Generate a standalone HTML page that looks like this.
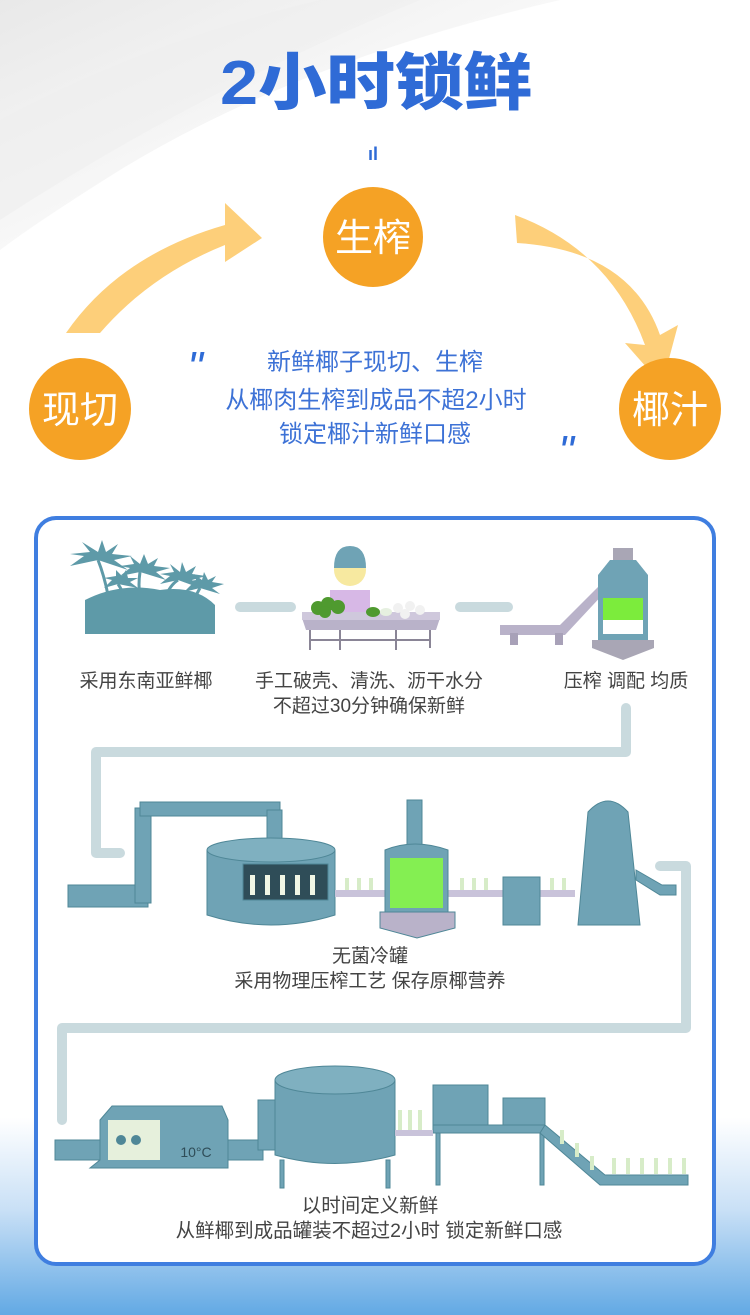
<!DOCTYPE html>
<html><head><meta charset="utf-8"><style>
html,body{margin:0;padding:0;width:750px;height:1315px;overflow:hidden;background:#fff}
svg{display:block}
text{font-family:"Liberation Sans","Noto Sans CJK SC",sans-serif}
</style></head><body>
<svg width="750" height="1315" viewBox="0 0 750 1315" xmlns="http://www.w3.org/2000/svg">
<defs>
<linearGradient id="bg" x1="0" y1="0" x2="0" y2="1">
<stop offset="0" stop-color="#fff"/><stop offset="0.85" stop-color="#fff"/><stop offset="0.92" stop-color="#c9e0f6"/><stop offset="1" stop-color="#62a9e4"/>
</linearGradient>
<linearGradient id="silk" x1="0" y1="0" x2="1" y2="1">
<stop offset="0" stop-color="#e6e6e6"/><stop offset="0.5" stop-color="#f7f7f7"/><stop offset="1" stop-color="#fff" stop-opacity="0"/>
</linearGradient>
</defs>
<rect width="750" height="1315" fill="url(#bg)"/>
<path d="M0 0 L560 0 Q300 60 120 170 Q40 220 0 250 Z" fill="url(#silk)" opacity="0.9"/>
<path d="M0 120 Q150 40 320 0 L420 0 Q200 90 0 220 Z" fill="#efefef" opacity="0.6"/>

<text x="220" y="104" textLength="312" lengthAdjust="spacingAndGlyphs" font-size="62" font-weight="900" fill="#2f6bd6">2小时锁鲜</text>
<text x="373" y="160" text-anchor="middle" font-size="18" font-weight="bold" fill="#2f6bd6">ıl</text>

<!-- arrows -->
<path d="M66 333 Q120 255 225 225 L225 203 L262 238 L225 262 L225 245 Q150 275 100 333 Z" fill="#fdcf7a"/>
<path d="M515 215 Q610 250 645 345 L625 343 L662 385 L678 325 L660 335 Q630 250 517 243 Z" fill="#fdcf7a"/>

<circle cx="373" cy="237" r="50" fill="#f5a225"/>
<text x="373" y="251" text-anchor="middle" font-size="38" fill="#fff">生榨</text>
<circle cx="80" cy="409" r="51" fill="#f5a225"/>
<text x="80" y="423" text-anchor="middle" font-size="38" fill="#fff">现切</text>
<circle cx="670" cy="409" r="51" fill="#f5a225"/>
<text x="670" y="423" text-anchor="middle" font-size="38" fill="#fff">椰汁</text>

<text x="195" y="382" text-anchor="middle" font-size="44" font-style="italic" fill="#2f6bd6">"</text>
<text x="566" y="466" text-anchor="middle" font-size="44" font-style="italic" fill="#2f6bd6">"</text>
<g font-size="24" fill="#3d72d6" text-anchor="middle">
<text x="375" y="370">新鲜椰子现切、生榨</text>
<text x="376" y="408">从椰肉生榨到成品不超2小时</text>
<text x="375" y="442">锁定椰汁新鲜口感</text>
</g>

<!-- card -->
<rect x="36" y="518" width="678" height="746" rx="20" fill="#fff" stroke="#3f7ee0" stroke-width="4"/>

<!-- connectors -->
<g stroke="#c9dade" stroke-width="10" fill="none" stroke-linecap="round" stroke-linejoin="round">
<line x1="240" y1="607" x2="291" y2="607"/>
<line x1="460" y1="607" x2="508" y2="607"/>
<path d="M626 708 V752 H96 V853 H120"/>
<path d="M660 866 H686 V1028 H62 V1120"/>
</g>

<!-- row1: palms -->
<g fill="#5e9aa8">
<path d="M85 634 L85 600 Q120 582 160 590 Q195 585 215 605 L215 634 Z"/>
<g stroke="#5e9aa8" stroke-width="3" fill="none">
<path d="M108 595 Q104 575 98 560"/><path d="M140 596 Q138 585 140 572"/><path d="M165 598 Q170 585 178 580"/><path d="M192 605 Q196 595 200 588"/><path d="M125 598 Q122 590 118 584"/>
</g>
<g>
<path d="M98 560 l-28 6 l14 -10 l-14 -2 l20 -2 l-8 -10 l16 10 l4 -12 l4 12 l12 -8 l-6 10 l20 2 l-18 4 l14 10 z"/>
<path d="M140 572 l-20 4 l10 -8 l-10 -2 l14 -2 l-4 -8 l10 8 l4 -10 l4 10 l10 -6 l-4 8 l16 2 l-14 4 l10 8 z"/>
<path d="M178 580 l-18 4 l10 -8 l-10 -2 l14 -2 l-4 -8 l10 8 l2 -10 l4 10 l10 -6 l-4 8 l14 2 l-14 4 l8 8 z"/>
<path d="M200 588 l-16 4 l8 -8 l-8 -2 l12 -2 l-2 -6 l8 6 l2 -8 l4 8 l8 -4 l-4 6 l12 2 l-12 4 l8 6 z"/>
<path d="M118 584 l-14 4 l8 -8 l-8 -2 l12 -2 l0 -6 l6 6 l4 -6 l2 8 l10 0 l-8 4 l8 6 z"/>
</g>
</g>
<!-- worker -->
<g>
<rect x="330" y="590" width="40" height="25" fill="#d7b8e6"/>
<circle cx="350" cy="570" r="16" fill="#f7e9a0"/>
<path d="M334 568 Q334 546 350 546 Q366 546 366 568 Z" fill="#6fa3b5"/>
<path d="M302 618 L440 618 L436 630 L306 630 Z" fill="#b9b2c9"/>
<rect x="302" y="612" width="138" height="8" fill="#cfc8dc"/>
<g stroke="#8a8596" stroke-width="2"><line x1="310" y1="630" x2="310" y2="650"/><line x1="340" y1="630" x2="340" y2="650"/><line x1="396" y1="630" x2="396" y2="650"/><line x1="430" y1="630" x2="430" y2="648"/><line x1="310" y1="640" x2="430" y2="640"/></g>
<g fill="#4f9a2f"><circle cx="318" cy="608" r="7"/><circle cx="328" cy="604" r="7"/><circle cx="338" cy="607" r="7"/><circle cx="325" cy="612" r="6"/></g>
<ellipse cx="373" cy="612" rx="7" ry="5" fill="#4f9a2f"/><ellipse cx="386" cy="612" rx="6" ry="4" fill="#e6f0e0"/>
<g fill="#f1f1f1"><circle cx="398" cy="608" r="5"/><circle cx="410" cy="606" r="5"/><circle cx="420" cy="610" r="5"/><circle cx="405" cy="614" r="5"/></g>
</g>
<!-- press machine -->
<g>
<path d="M500 625 L560 625 L615 570 L620 576 L565 635 L500 635 Z" fill="#b9b2c9"/>
<rect x="510" y="633" width="8" height="12" fill="#a8a1b8"/><rect x="555" y="633" width="8" height="12" fill="#a8a1b8"/>
<rect x="613" y="548" width="20" height="14" fill="#a9a6b5"/>
<path d="M598 575 L610 560 L636 560 L648 575 L648 640 L598 640 Z" fill="#6fa3b5"/>
<rect x="603" y="598" width="40" height="22" fill="#7cec3c"/>
<rect x="603" y="620" width="40" height="14" fill="#fff"/>
<path d="M592 640 L654 640 L654 648 L623 660 L592 648 Z" fill="#a9a6b5"/>
</g>

<g font-size="19" fill="#444" text-anchor="middle">
<text x="146" y="687">采用东南亚鲜椰</text>
<text x="369" y="687">手工破壳、清洗、沥干水分</text>
<text x="369" y="712">不超过30分钟确保新鲜</text>
<text x="626" y="687">压榨 调配 均质</text>
</g>

<!-- row2 -->
<g fill="#6fa3b5" stroke="#4f8797" stroke-width="1">
<rect x="68" y="885" width="80" height="22"/>
<rect x="135" y="808" width="16" height="95"/>
<rect x="140" y="802" width="140" height="14"/>
<rect x="267" y="810" width="15" height="45"/>
<path d="M207 850 Q271 830 335 850 L335 915 Q271 935 207 915 Z"/>
<ellipse cx="271" cy="850" rx="64" ry="12" fill="#7fb0c0"/>
<rect x="243" y="864" width="85" height="36" fill="#2f4d58"/>
<rect x="335" y="890" width="240" height="7" fill="#c9c3da" stroke="none"/>
<rect x="407" y="800" width="15" height="45"/>
<path d="M385 850 Q414 838 448 850 L448 912 L385 912 Z"/>
<rect x="390" y="858" width="53" height="50" fill="#84ef52" stroke="none"/>
<path d="M380 912 L455 912 L455 928 L417 938 L380 928 Z" fill="#b9b2c9"/>
<rect x="503" y="877" width="37" height="48"/>
<path d="M578 925 L588 812 Q608 790 628 812 L640 925 Z"/>
<path d="M636 870 L662 885 L676 885 L676 895 L660 895 L636 880 Z"/>
</g>
<g fill="#f1f7e6">
<rect x="250" y="875" width="5" height="20"/><rect x="265" y="875" width="5" height="20"/><rect x="280" y="875" width="5" height="20"/><rect x="295" y="875" width="5" height="20"/><rect x="310" y="875" width="5" height="20"/>
</g>
<g fill="#d7ecc8"><rect x="345" y="878" width="4" height="12"/><rect x="357" y="878" width="4" height="12"/><rect x="369" y="878" width="4" height="12"/><rect x="460" y="878" width="4" height="12"/><rect x="472" y="878" width="4" height="12"/><rect x="484" y="878" width="4" height="12"/><rect x="550" y="878" width="4" height="12"/><rect x="562" y="878" width="4" height="12"/></g>

<g font-size="19" fill="#444" text-anchor="middle">
<text x="370" y="962">无菌冷罐</text>
<text x="370" y="987">采用物理压榨工艺 保存原椰营养</text>
</g>

<!-- row3 -->
<g fill="#6fa3b5" stroke="#4f8797" stroke-width="1">
<rect x="55" y="1140" width="45" height="20"/>
<path d="M100 1120 L112 1106 L222 1106 L228 1120 L228 1168 L90 1168 L100 1160 Z"/>
<rect x="228" y="1140" width="35" height="20"/>
<rect x="258" y="1100" width="18" height="50"/>
<path d="M275 1080 Q335 1055 395 1080 L395 1155 Q335 1172 275 1155 Z"/>
<ellipse cx="335" cy="1080" rx="60" ry="14" fill="#7fb0c0"/>
<rect x="280" y="1160" width="4" height="28"/><rect x="386" y="1160" width="4" height="28"/>
<rect x="433" y="1085" width="55" height="42"/>
<rect x="503" y="1098" width="42" height="28"/>
<rect x="433" y="1125" width="112" height="8"/>
<rect x="436" y="1133" width="4" height="52"/><rect x="540" y="1133" width="4" height="52"/>
<path d="M545 1125 L605 1175 L688 1175 L688 1185 L600 1185 L540 1133 Z"/>
</g>
<rect x="108" y="1120" width="52" height="40" fill="#e6f0dc"/>
<g fill="#4f8797"><circle cx="121" cy="1140" r="5"/><circle cx="136" cy="1140" r="5"/></g>
<text x="196" y="1157" text-anchor="middle" font-size="14" fill="#2f4d58">10°C</text>
<g fill="#d7ecc8"><rect x="398" y="1110" width="4" height="20"/><rect x="408" y="1110" width="4" height="20"/><rect x="418" y="1110" width="4" height="20"/><rect x="612" y="1158" width="4" height="16"/><rect x="626" y="1158" width="4" height="16"/><rect x="640" y="1158" width="4" height="16"/><rect x="654" y="1158" width="4" height="16"/><rect x="668" y="1158" width="4" height="16"/><rect x="682" y="1158" width="4" height="16"/><rect x="560" y="1130" width="4" height="14"/><rect x="575" y="1143" width="4" height="14"/><rect x="590" y="1156" width="4" height="14"/></g>
<rect x="395" y="1130" width="38" height="6" fill="#c9c3da"/>

<g font-size="19.5" fill="#444" text-anchor="middle">
<text x="370" y="1212">以时间定义新鲜</text>
<text x="369" y="1237">从鲜椰到成品罐装不超过2小时 锁定新鲜口感</text>
</g>
</svg>
</body></html>
